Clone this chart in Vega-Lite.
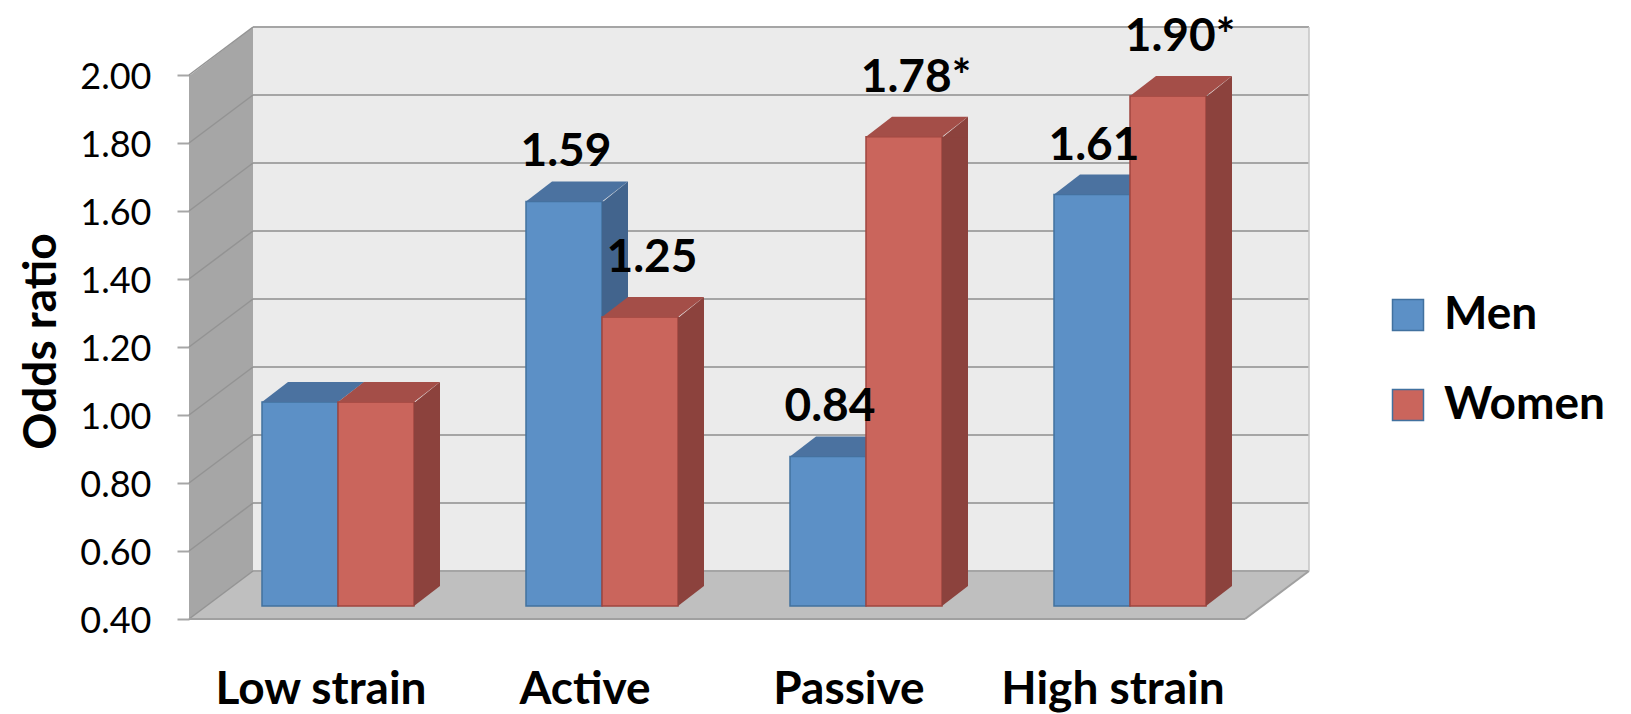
{
  "$schema": "https://vega.github.io/schema/vega-lite/v6.json",
  "width": 1056,
  "height": 544,
  "autosize": {"type": "none"},
  "padding": {"left": 206, "top": 62, "right": 369, "bottom": 108},
  "background": "white",
  "config": {"view": {"stroke": null}},
  "datasets": {
    "odds": [
      {"strain": "Low strain", "sex": "Men", "or": 1.00, "label": ""},
      {"strain": "Low strain", "sex": "Women", "or": 1.00, "label": ""},
      {"strain": "Active", "sex": "Men", "or": 1.59, "label": "1.59"},
      {"strain": "Active", "sex": "Women", "or": 1.25, "label": "1.25"},
      {"strain": "Passive", "sex": "Men", "or": 0.84, "label": "0.84"},
      {"strain": "Passive", "sex": "Women", "or": 1.78, "label": "1.78*"},
      {"strain": "High strain", "sex": "Men", "or": 1.61, "label": "1.61"},
      {"strain": "High strain", "sex": "Women", "or": 1.90, "label": "1.90*"}
    ],
    "grid": [{"v": 0.4}, {"v": 0.6}, {"v": 0.8}, {"v": 1.0}, {"v": 1.2}, {"v": 1.4}, {"v": 1.6}, {"v": 1.8}, {"v": 2.0}],
    "frame": [{"part": "frame"}]
  },
  "resolve": {"scale": {"x": "independent"}, "axis": {"x": "independent"}},
  "layer": [
    {
      "layer": [
        {
          "data": {"name": "frame"},
          "mark": {"type": "rect", "fill": "#ebebeb", "xOffset": 47, "x2Offset": 47, "yOffset": -35, "y2Offset": -35},
          "encoding": {
            "x": {"datum": 0, "type": "quantitative", "scale": {"domain": [0, 1], "nice": false, "zero": false}, "axis": null},
            "x2": {"datum": 1},
            "y": {"datum": 2, "type": "quantitative", "scale": {"domain": [0.4, 2.0], "nice": false, "zero": false}},
            "y2": {"datum": 0.4}
          }
        },
        {
          "data": {"name": "frame"},
          "mark": {"type": "rect", "fill": "#a6a6a6", "xOffset": -17, "x2Offset": 47, "yOffset": 13, "y2Offset": -35},
          "encoding": {
            "x": {"datum": 0, "type": "quantitative", "axis": null},
            "x2": {"datum": 0},
            "y": {"datum": 2, "type": "quantitative"},
            "y2": {"datum": 0.4}
          }
        },
        {
          "data": {"name": "frame"},
          "mark": {"type": "point", "filled": true, "opacity": 1, "size": 4, "strokeWidth": 0, "fill": "#a6a6a6", "xOffset": -17, "yOffset": 13, "shape": "M0,1 L64,-48 L64,1 Z"},
          "encoding": {
            "x": {"datum": 0, "type": "quantitative", "axis": null},
            "y": {"datum": 2, "type": "quantitative"}
          }
        },
        {
          "data": {"name": "frame"},
          "mark": {"type": "point", "filled": true, "opacity": 1, "size": 4, "strokeWidth": 0, "fill": "#a6a6a6", "xOffset": -17, "yOffset": 13, "shape": "M0,0 L0,-49 L64,-49 L64,-48 Z"},
          "encoding": {
            "x": {"datum": 0, "type": "quantitative", "axis": null},
            "y": {"datum": 0.4, "type": "quantitative"}
          }
        },
        {
          "data": {"name": "frame"},
          "mark": {"type": "rect", "fill": "#bfbfbf", "xOffset": 47, "x2Offset": -17, "yOffset": -35, "y2Offset": 13},
          "encoding": {
            "x": {"datum": 0, "type": "quantitative", "axis": null},
            "x2": {"datum": 1},
            "y": {"datum": 0.4, "type": "quantitative"},
            "y2": {"datum": 0.4}
          }
        },
        {
          "data": {"name": "frame"},
          "mark": {"type": "point", "filled": true, "opacity": 1, "size": 4, "strokeWidth": 0, "fill": "#bfbfbf", "xOffset": -17, "yOffset": 13, "shape": "M0,0 L64,-48 L65,-48 L65,0 Z"},
          "encoding": {
            "x": {"datum": 0, "type": "quantitative", "axis": null},
            "y": {"datum": 0.4, "type": "quantitative"}
          }
        },
        {
          "data": {"name": "frame"},
          "mark": {"type": "point", "filled": true, "opacity": 1, "size": 4, "strokeWidth": 0, "fill": "#bfbfbf", "xOffset": -17, "yOffset": 13, "shape": "M-1,0 L0,0 L64,-48 L-1,-48 Z"},
          "encoding": {
            "x": {"datum": 1, "type": "quantitative", "axis": null},
            "y": {"datum": 0.4, "type": "quantitative"}
          }
        },
        {
          "data": {"name": "grid"},
          "mark": {"type": "rule", "stroke": "#a5a5a5", "strokeWidth": 2, "xOffset": 47, "x2Offset": 47, "yOffset": -35},
          "encoding": {
            "x": {"datum": 0, "type": "quantitative", "axis": null},
            "x2": {"datum": 1},
            "y": {"field": "v", "type": "quantitative"}
          }
        },
        {
          "data": {"name": "grid"},
          "mark": {"type": "rule", "stroke": "#939393", "strokeWidth": 1.5, "xOffset": -17, "x2Offset": 47, "yOffset": 13, "y2Offset": -35},
          "encoding": {
            "x": {"datum": 0, "type": "quantitative", "axis": null},
            "x2": {"datum": 0},
            "y": {"field": "v", "type": "quantitative"},
            "y2": {"field": "v"}
          }
        },
        {
          "data": {"name": "frame"},
          "mark": {"type": "rule", "stroke": "#a0a0a0", "strokeWidth": 2, "xOffset": -17, "x2Offset": -17, "yOffset": 13},
          "encoding": {
            "x": {"datum": 0, "type": "quantitative", "axis": null},
            "x2": {"datum": 1},
            "y": {"datum": 0.4, "type": "quantitative"}
          }
        },
        {
          "data": {"name": "frame"},
          "mark": {"type": "rule", "stroke": "#a0a0a0", "strokeWidth": 2, "xOffset": -17, "x2Offset": 47, "yOffset": 13, "y2Offset": -35},
          "encoding": {
            "x": {"datum": 1, "type": "quantitative", "axis": null},
            "x2": {"datum": 1},
            "y": {"datum": 0.4, "type": "quantitative"},
            "y2": {"datum": 0.4}
          }
        },
        {
          "data": {"name": "frame"},
          "mark": {"type": "rule", "stroke": "#c4c4c4", "strokeWidth": 1.5, "xOffset": 47, "x2Offset": 47, "yOffset": -35, "y2Offset": -35},
          "encoding": {
            "x": {"datum": 1, "type": "quantitative", "axis": null},
            "x2": {"datum": 1},
            "y": {"datum": 2, "type": "quantitative"},
            "y2": {"datum": 0.4}
          }
        }
      ]
    },
    {
      "data": {"name": "odds"},
      "encoding": {
        "x": {
          "field": "strain", "type": "nominal",
          "sort": ["Low strain", "Active", "Passive", "High strain"],
          "scale": {"paddingInner": 0, "paddingOuter": 0},
          "axis": {"orient": "bottom", "title": null, "labelAngle": 0, "labelLimit": 0, "domain": false, "ticks": false, "tickSize": 0, "labelPadding": 97, "labelOffset": -17, "labelBaseline": "alphabetic", "labelFont": "Lato", "labelFontSize": 46, "labelFontWeight": "bold", "labelColor": "black"}
        }
      },
      "layer": [
        {
          "transform": [{"filter": "datum.sex === 'Men'"}],
          "mark": {"type": "bar", "width": 76, "xOffset": -38, "stroke": "#41719f", "strokeWidth": 1.5},
          "encoding": {
            "y": {"field": "or", "type": "quantitative", "stack": null, "scale": {"domain": [0.4, 2.0], "nice": false, "zero": false},
              "axis": {"title": "Odds ratio", "values": [0.4, 0.6, 0.8, 1.0, 1.2, 1.4, 1.6, 1.8, 2.0], "format": ".2f", "offset": 17, "tickOffset": 13, "tickSize": 12, "tickWidth": 2, "tickColor": "#a6a6a6", "domain": false, "grid": false, "labelPadding": 26, "labelOffset": 2, "labelFont": "Lato", "labelFontSize": 36, "labelColor": "black", "titleFont": "Lato", "titleFontSize": 46, "titleFontWeight": "bold", "titleColor": "black", "titlePadding": 14, "titleY": 279}},
            "y2": {"datum": 0.4},
            "color": {"field": "sex", "type": "nominal", "scale": {"domain": ["Men", "Women"], "range": ["#5c90c6", "#ca655c"]},
              "legend": {"title": null, "orient": "none", "legendX": 1179, "legendY": 230, "symbolType": "square", "symbolSize": 961, "symbolStrokeWidth": 1.5, "labelFont": "Lato", "labelFontSize": 46, "labelFontWeight": "bold", "labelColor": "black", "labelLimit": 0, "labelOffset": 13, "rowPadding": 44,
                "encode": {"symbols": {"update": {"stroke": {"signal": "datum.value === 'Men' ? '#41719f' : '#a0463f'"}, "strokeWidth": {"value": 1.5}}}}}}
          }
        },
        {
          "transform": [{"filter": "datum.sex === 'Men'"}],
          "mark": {"type": "point", "filled": true, "opacity": 1, "size": 4, "strokeWidth": 0, "fill": "#4b72a0", "xOffset": 0, "shape": "M-76,0 L-50,-20 L26,-20 L0,0 Z"},
          "encoding": {"y": {"field": "or", "type": "quantitative"}}
        },
        {
          "transform": [{"filter": "datum.sex === 'Men'"}],
          "mark": {"type": "bar", "width": 26, "xOffset": 13, "fill": "#42648d", "y2Offset": -20},
          "encoding": {"y": {"field": "or", "type": "quantitative", "stack": null}, "y2": {"datum": 0.4}}
        },
        {
          "transform": [{"filter": "datum.sex === 'Men'"}],
          "mark": {"type": "point", "filled": true, "opacity": 1, "size": 4, "strokeWidth": 0, "fill": "#42648d", "xOffset": 0, "shape": "M0,1 L26,-20 L26,1 Z"},
          "encoding": {"y": {"field": "or", "type": "quantitative"}}
        },
        {
          "transform": [{"filter": "datum.sex === 'Men'"}],
          "mark": {"type": "point", "filled": true, "opacity": 1, "size": 4, "strokeWidth": 0, "fill": "#42648d", "xOffset": 0, "shape": "M0,0 L0,-21 L26,-21 L26,-20 Z"},
          "encoding": {"y": {"datum": 0.4, "type": "quantitative"}}
        },
        {
          "transform": [{"filter": "datum.sex === 'Women'"}],
          "mark": {"type": "bar", "width": 76, "xOffset": 38, "stroke": "#a0463f", "strokeWidth": 1.5},
          "encoding": {
            "y": {"field": "or", "type": "quantitative", "stack": null},
            "y2": {"datum": 0.4},
            "color": {"field": "sex", "type": "nominal"}
          }
        },
        {
          "transform": [{"filter": "datum.sex === 'Women'"}],
          "mark": {"type": "point", "filled": true, "opacity": 1, "size": 4, "strokeWidth": 0, "fill": "#a44e48", "xOffset": 76, "shape": "M-76,0 L-50,-20 L26,-20 L0,0 Z"},
          "encoding": {"y": {"field": "or", "type": "quantitative"}}
        },
        {
          "transform": [{"filter": "datum.sex === 'Women'"}],
          "mark": {"type": "bar", "width": 26, "xOffset": 89, "fill": "#8c423d", "y2Offset": -20},
          "encoding": {"y": {"field": "or", "type": "quantitative", "stack": null}, "y2": {"datum": 0.4}}
        },
        {
          "transform": [{"filter": "datum.sex === 'Women'"}],
          "mark": {"type": "point", "filled": true, "opacity": 1, "size": 4, "strokeWidth": 0, "fill": "#8c423d", "xOffset": 76, "shape": "M0,1 L26,-20 L26,1 Z"},
          "encoding": {"y": {"field": "or", "type": "quantitative"}}
        },
        {
          "transform": [{"filter": "datum.sex === 'Women'"}],
          "mark": {"type": "point", "filled": true, "opacity": 1, "size": 4, "strokeWidth": 0, "fill": "#8c423d", "xOffset": 76, "shape": "M0,0 L0,-21 L26,-21 L26,-20 Z"},
          "encoding": {"y": {"datum": 0.4, "type": "quantitative"}}
        },
        {
          "transform": [{"filter": "datum.sex === 'Men'"}],
          "mark": {"type": "text", "xOffset": -36, "dy": -35, "baseline": "alphabetic", "align": "center", "font": "Lato", "fontSize": 46, "fontWeight": "bold", "fill": "black"},
          "encoding": {"y": {"field": "or", "type": "quantitative"}, "text": {"field": "label"}}
        },
        {
          "transform": [{"filter": "datum.sex === 'Women'"}],
          "mark": {"type": "text", "xOffset": 50, "dy": -45, "baseline": "alphabetic", "align": "center", "font": "Lato", "fontSize": 46, "fontWeight": "bold", "fill": "black"},
          "encoding": {"y": {"field": "or", "type": "quantitative"}, "text": {"field": "label"}}
        }
      ]
    }
  ]
}
